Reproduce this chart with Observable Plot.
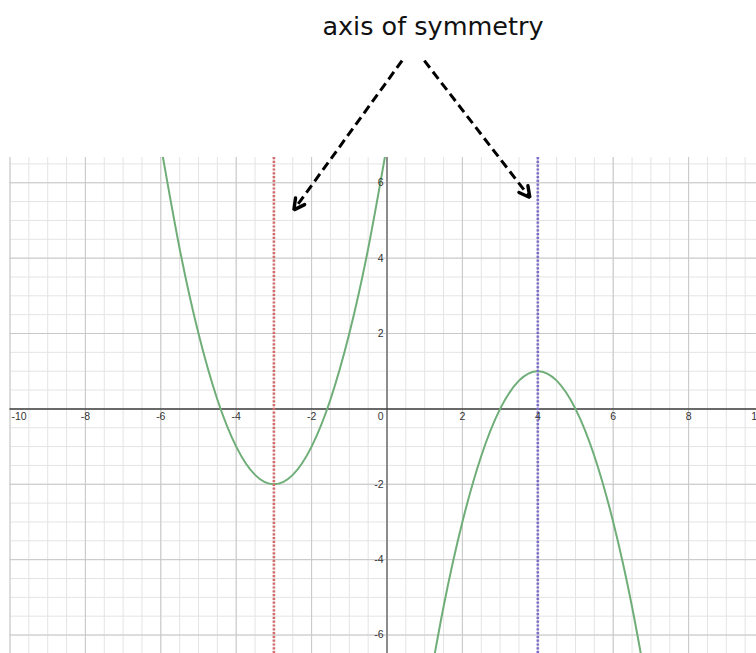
<!DOCTYPE html>
<html>
<head>
<meta charset="utf-8">
<script src="https://cdn.jsdelivr.net/npm/d3@7"></script>
<script src="https://cdn.jsdelivr.net/npm/@observablehq/plot@0.6"></script>
<style>
  html, body { margin: 0; padding: 0; background: #fff; overflow: hidden; }
  #wrap { position: relative; width: 756px; height: 653px; }
  #title { position: absolute; top: 11px; left: 433px; transform: translateX(-50%);
           font-family: "DejaVu Sans", sans-serif; font-size: 25.5px; color: #111; white-space: nowrap; z-index: 2; }
  #chart { position: absolute; top: 0; left: 0; }
</style>
</head>
<body>
<div id="wrap">
  <div id="title">axis of symmetry</div>
  <div id="chart"></div>
</div>
<script>
// Parabola points
const leftX  = [-6, -5.5, -5, -4.5, -4, -3.5, -3, -2.5, -2, -1.5, -1, -0.5, 0];
const leftY  = [7, 4.25, 2, 0.25, -1, -1.75, -2, -1.75, -1, 0.25, 2, 4.25, 7];
const rightX = [1, 1.5, 2, 2.5, 3, 3.5, 4, 4.5, 5, 5.5, 6, 6.5, 7];
const rightY = [-8, -5.25, -3, -1.25, 0, 0.75, 1, 0.75, 0, -1.25, -3, -5.25, -8];

// Axes of symmetry
const axisRed = [-3];
const axisBlue = [4];

// Tick labels
const xTickVals = [-10, -8, -6, -4, -2, 2, 4, 6, 8, 10];
const xTickText = ["-10", "-8", "-6", "-4", "-2", "2", "4", "6", "8", "10"];
const yTickVals = [-6, -4, -2, 2, 4, 6];
const yTickText = ["-6", "-4", "-2", "2", "4", "6"];

// Annotation arrows (data coordinates)
const arrowX1 = [0.40, 0.99];
const arrowY1 = [9.24, 9.24];
const arrowX2 = [-2.47, 3.79];
const arrowY2 = [5.28, 5.61];

const leftData = leftX.map((x, i) => ({x, y: leftY[i]}));
const rightData = rightX.map((x, i) => ({x, y: rightY[i]}));
const xTicks = xTickVals.map((v, i) => ({v, t: xTickText[i]}));
const yTicks = yTickVals.map((v, i) => ({v, t: yTickText[i]}));
const arrows = arrowX1.map((x1, i) => ({x1, y1: arrowY1[i], x2: arrowX2[i], y2: arrowY2[i], id: i}));

// arrow heads (wings), same px/unit on both axes
const headLen = 12 / 37.7, half = 28 * Math.PI / 180;
const heads = [];
arrows.forEach(a => {
  const dx = a.x2 - a.x1, dy = a.y2 - a.y1, n = Math.hypot(dx, dy);
  const ux = dx / n, uy = dy / n;
  const rot = (ang) => ({x: ux * Math.cos(ang) - uy * Math.sin(ang), y: ux * Math.sin(ang) + uy * Math.cos(ang)});
  const r1 = rot(half), r2 = rot(-half);
  heads.push({x: a.x2 - headLen * r1.x, y: a.y2 - headLen * r1.y, id: a.id});
  heads.push({x: a.x2, y: a.y2, id: a.id});
  heads.push({x: a.x2 - headLen * r2.x, y: a.y2 - headLen * r2.y, id: a.id});
});

const minorX = d3.range(-10, 10.01, 0.5);
const minorY = d3.range(-7, 7.01, 0.5);
const majorX = d3.range(-10, 10.01, 2).filter(v => v !== 0);
const majorY = d3.range(-6, 6.01, 2).filter(v => v !== 0);

const plot = Plot.plot({
  width: 756,
  height: 653,
  marginTop: 157,
  marginBottom: 0,
  marginLeft: 9.5,
  marginRight: 0,
  style: {fontFamily: "'Liberation Sans', Arial, sans-serif", background: "transparent", overflow: "visible"},
  x: {domain: [-10, 10], range: [9.5, 763.5], axis: null},
  y: {domain: [-6.49, 6.67], axis: null},
  marks: [
    Plot.ruleX(minorX, {stroke: "#e4e4e4", strokeWidth: 1}),
    Plot.ruleY(minorY, {stroke: "#e4e4e4", strokeWidth: 1, clip: true}),
    Plot.ruleX(majorX, {stroke: "#c8c8c8", strokeWidth: 1}),
    Plot.ruleY(majorY, {stroke: "#c8c8c8", strokeWidth: 1}),
    Plot.ruleX([0], {stroke: "#8c8c8c", strokeWidth: 2}),
    Plot.ruleY([0], {stroke: "#3c3c3c", strokeWidth: 1.5}),
    Plot.line(leftData, {x: "x", y: "y", curve: "natural", stroke: "#6fae78", strokeWidth: 2, clip: true}),
    Plot.line(rightData, {x: "x", y: "y", curve: "natural", stroke: "#6fae78", strokeWidth: 2, clip: true}),
    Plot.ruleX(axisRed, {stroke: "#d46a6a", strokeWidth: 2.6, strokeDasharray: "2.2,1.6"}),
    Plot.ruleX(axisBlue, {stroke: "#7d6ccb", strokeWidth: 2.6, strokeDasharray: "2.2,1.6"}),
    Plot.text(xTicks.filter(d => d.v !== -10 && d.v !== 10), {x: "v", y: 0, text: "t", dy: 7.5, fontSize: 10.5, fill: "#333"}),
    Plot.text(xTicks.filter(d => d.v === -10), {x: "v", y: 0, text: "t", dy: 7.5, dx: 1.5, textAnchor: "start", fontSize: 10.5, fill: "#333"}),
    Plot.text(xTicks.filter(d => d.v === 10), {x: "v", y: 0, text: "t", dy: 7.5, dx: -1, textAnchor: "end", fontSize: 10.5, fill: "#333"}),
    Plot.text(yTicks, {x: 0, y: "v", text: "t", dx: -3.5, textAnchor: "end", fontSize: 10.5, fill: "#333"}),
    Plot.text(["0"], {x: 0, y: 0, text: d => d, dx: -3.5, dy: 7.5, textAnchor: "end", fontSize: 10.5, fill: "#333"}),
    Plot.link(arrows, {x1: "x1", y1: "y1", x2: "x2", y2: "y2", stroke: "#000", strokeWidth: 3, strokeDasharray: "9,5"}),
    Plot.line(heads, {x: "x", y: "y", z: "id", stroke: "#000", strokeWidth: 3.4, strokeLinejoin: "miter"})
  ]
});
document.getElementById("chart").appendChild(plot);
</script>
</body>
</html>
